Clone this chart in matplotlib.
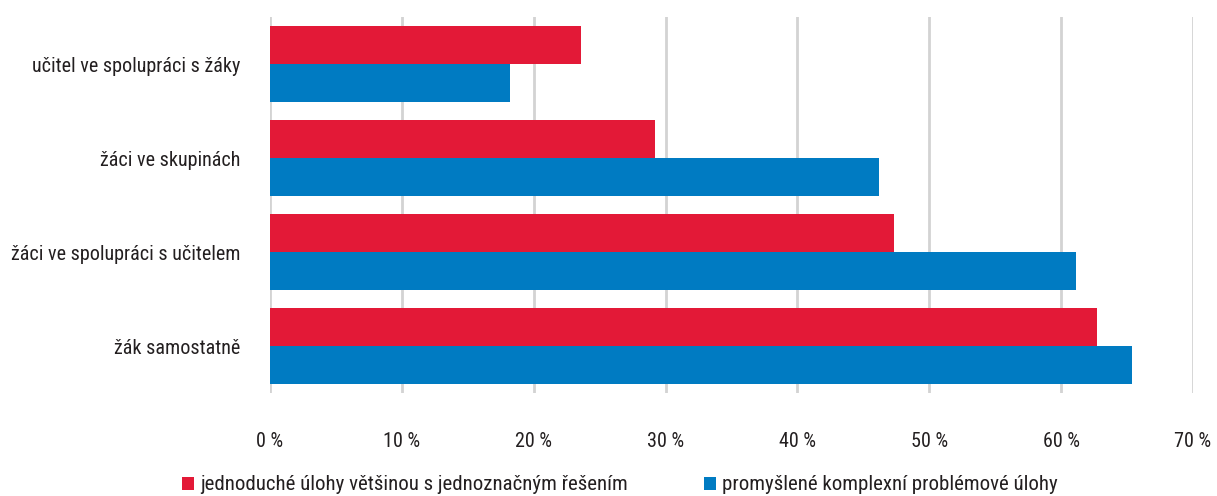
import matplotlib
matplotlib.use("Agg")
import matplotlib.pyplot as plt
from matplotlib import font_manager
import numpy as np

categories = ["učitel ve spolupráci s žáky", "žáci ve skupinách",
              "žáci ve spolupráci s učitelem", "žák samostatně"]
series_names = ["jednoduché úlohy většinou s jednoznačným řešením",
                "promyšlené komplexní problémové úlohy"]
simple_vals = [23.6, 29.2, 47.3, 62.7]
complex_vals = [18.2, 46.2, 61.1, 65.4]
xticks = [0, 10, 20, 30, 40, 50, 60, 70]
xtick_labels = [f"{v} %" for v in xticks]

colors = ["#E31937", "#007BC2"]
text_color = "#231F20"

avail = {f.name for f in font_manager.fontManager.ttflist}
family = "DejaVu Sans"
for cand in ["Liberation Sans Narrow", "Roboto Condensed", "Open Sans Condensed", "Liberation Sans"]:
    if cand in avail:
        family = cand
        break
plt.rcParams['font.family'] = [family, 'DejaVu Sans']

fs = 14.5
fig = plt.figure(figsize=(12.17, 4.96), dpi=100)
ax = fig.add_axes([270/1217, 1-393/496, (1193-270)/1217, (393-17)/496])

y = np.arange(len(categories))
h = 0.4
ax.barh(y - h/2, simple_vals, height=h, color=colors[0], label=series_names[0], zorder=3)
ax.barh(y + h/2, complex_vals, height=h, color=colors[1], label=series_names[1], zorder=3)

ax.set_xlim(0, 70)
ax.set_ylim(3.5, -0.5)
ax.set_xticks(xticks)
ax.set_xticklabels(xtick_labels)
ax.set_yticks(y)
ax.set_yticklabels(categories)
for s in ax.spines.values():
    s.set_visible(False)
ax.grid(axis='x', color='#D3D3D3', linewidth=2, zorder=0)
ax.tick_params(axis='both', length=0, labelsize=fs, colors=text_color)
ax.tick_params(axis='y', pad=21.5)
ax.tick_params(axis='x', pad=28)

leg = fig.legend(loc='center left', bbox_to_anchor=(182/1217, 1-485/496), ncol=2, frameon=False,
                 fontsize=15, handlelength=0.58, handleheight=0.58, handletextpad=0.3,
                 columnspacing=3.65, borderpad=0, borderaxespad=0, labelcolor=text_color)

fig.savefig("out.png", dpi=100)
